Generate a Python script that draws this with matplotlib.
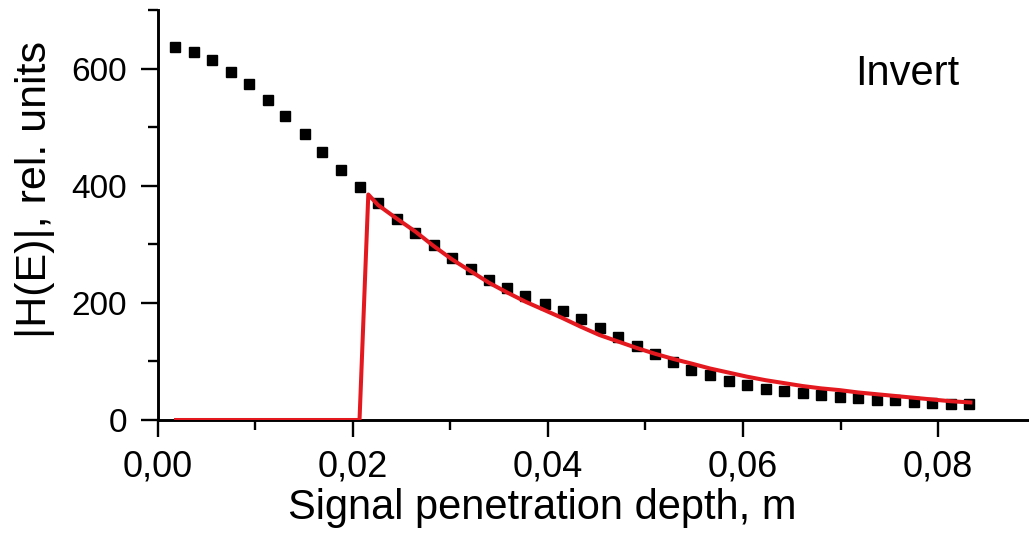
import numpy as np
import matplotlib
matplotlib.use('Agg')
import matplotlib.pyplot as plt
from matplotlib.ticker import MultipleLocator, FuncFormatter

plt.rcParams['font.family'] = ['Liberation Sans', 'DejaVu Sans']

# measured |H(E)| (black squares)
depth = [0.0018, 0.0037, 0.0056, 0.0075, 0.0094, 0.0113, 0.0131, 0.0151,
         0.0169, 0.0188, 0.0207, 0.0226, 0.0245, 0.0264, 0.0283, 0.0302,
         0.0321, 0.0340, 0.0358, 0.0377, 0.0397, 0.0415, 0.0434, 0.0453,
         0.0472, 0.0491, 0.0510, 0.0528, 0.0547, 0.0566, 0.0586, 0.0604,
         0.0623, 0.0642, 0.0661, 0.0680, 0.0699, 0.0718, 0.0737, 0.0756,
         0.0775, 0.0794, 0.0813, 0.0832]
h_meas = [637, 628, 615, 595, 574, 547, 519, 489, 458, 427, 397, 370,
          344, 320, 298, 277, 257, 239, 225, 212, 198, 186, 172, 157,
          142, 127, 112, 99, 86, 76, 67, 59, 53, 49, 46, 43, 40, 37,
          35, 34, 31, 29, 27, 28]

# inverted curve (red line)
depth_inv = [0.0019, 0.0207, 0.0216, 0.0226, 0.0245, 0.0264, 0.0283, 0.0302,
             0.0321, 0.0340, 0.0358, 0.0377, 0.0396, 0.0415, 0.0434, 0.0453,
             0.0472, 0.0491, 0.0510, 0.0529, 0.0548, 0.0566, 0.0585, 0.0604,
             0.0623, 0.0642, 0.0661, 0.0680, 0.0699, 0.0718, 0.0737, 0.0756,
             0.0775, 0.0794, 0.0813, 0.0833]
h_inv = [0, 0, 385, 367, 344, 322, 297, 274, 254, 234, 218, 202,
         188, 174, 159, 145, 134, 123, 113, 104, 96, 88, 81, 74,
         68, 63, 58, 54, 51, 47, 44, 41, 38, 35, 32, 30]

fig = plt.figure(figsize=(10.29, 5.33), dpi=100)
ax = fig.add_axes([157.5/1029, 113/533, (1029-157.5)/1029, 410/533])

ax.plot(depth, h_meas, 's', color='black', markersize=7.8, zorder=2)
ax.plot(depth_inv, h_inv, '-', color='#e3191f', lw=2.9, zorder=3)

ax.set_xlim(0, 0.0893)
ax.set_ylim(0, 700)
ax.xaxis.set_major_locator(MultipleLocator(0.02))
ax.xaxis.set_minor_locator(MultipleLocator(0.01))
ax.yaxis.set_major_locator(MultipleLocator(200))
ax.yaxis.set_minor_locator(MultipleLocator(100))
ax.xaxis.set_major_formatter(FuncFormatter(lambda v, p: ('%.2f' % v).replace('.', ',')))

for s in ['top', 'right']:
    ax.spines[s].set_visible(False)
for s in ['left', 'bottom']:
    ax.spines[s].set_linewidth(2.1)
ax.tick_params(which='major', direction='out', length=12, width=1.7)
ax.tick_params(which='minor', direction='out', length=7.5, width=1.7)
ax.tick_params(axis='x', which='major', labelsize=26, pad=9)
ax.tick_params(axis='y', which='major', labelsize=24, pad=10)

ax.set_xlabel('Signal penetration depth, m', fontsize=30)
ax.xaxis.set_label_coords(0.441, -0.165)
ax.set_ylabel('|H(E)|, rel. units', fontsize=31)
ax.yaxis.set_label_coords(-0.118, 0.563)

ax.text(0.86, 0.845, 'Invert', transform=ax.transAxes, fontsize=30,
        ha='center', va='center')

plt.savefig('out.png', dpi=100)
